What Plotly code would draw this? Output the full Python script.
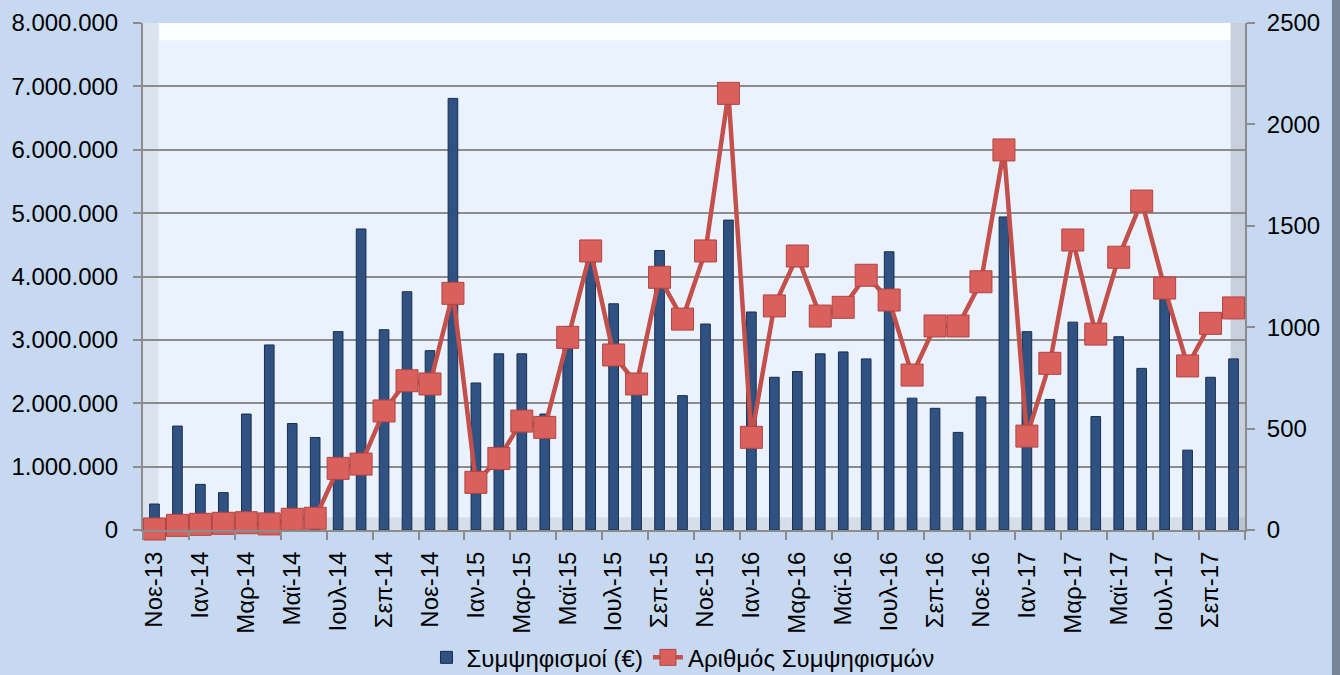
import plotly.graph_objects as go

months = ["Νοε-13", "Δεκ-13",
          "Ιαν-14", "Φεβ-14", "Μαρ-14", "Απρ-14", "Μαϊ-14", "Ιουν-14",
          "Ιουλ-14", "Αυγ-14", "Σεπ-14", "Οκτ-14", "Νοε-14", "Δεκ-14",
          "Ιαν-15", "Φεβ-15", "Μαρ-15", "Απρ-15", "Μαϊ-15", "Ιουν-15",
          "Ιουλ-15", "Αυγ-15", "Σεπ-15", "Οκτ-15", "Νοε-15", "Δεκ-15",
          "Ιαν-16", "Φεβ-16", "Μαρ-16", "Απρ-16", "Μαϊ-16", "Ιουν-16",
          "Ιουλ-16", "Αυγ-16", "Σεπ-16", "Οκτ-16", "Νοε-16", "Δεκ-16",
          "Ιαν-17", "Φεβ-17", "Μαρ-17", "Απρ-17", "Μαϊ-17", "Ιουν-17",
          "Ιουλ-17", "Αυγ-17", "Σεπ-17", "Οκτ-17"]

amounts = [410000, 1640000, 720000, 590000, 1830000, 2920000, 1680000, 1460000,
           3130000, 4750000, 3160000, 3760000, 2830000, 6810000,
           2320000, 2780000, 2780000, 1830000, 3210000, 4220000,
           3570000, 2250000, 4410000, 2120000, 3250000, 4890000,
           3440000, 2410000, 2500000, 2780000, 2810000, 2700000,
           4390000, 2080000, 1920000, 1540000, 2100000, 4940000,
           3130000, 2060000, 3280000, 1790000, 3050000, 2550000,
           3920000, 1260000, 2410000, 2700000]

counts = [5, 23, 28, 33, 36, 30, 53, 58,
          304, 325, 587, 736, 720, 1167,
          235, 353, 537, 506, 950, 1376,
          863, 720, 1246, 1040, 1376, 2153,
          457, 1105, 1351, 1055, 1098, 1256,
          1134, 764, 1006, 1006, 1224, 1874,
          463, 822, 1430, 966, 1345, 1622,
          1193, 809, 1019, 1095]

left_ticks = [0, 1000000, 2000000, 3000000, 4000000, 5000000, 6000000, 7000000, 8000000]
right_ticks = [0, 500, 1000, 1500, 2000, 2500]

x = list(range(len(months)))
label_idx = x[::2]
label_txt = [months[i] for i in label_idx]

FONT = "Liberation Sans, Arial, sans-serif"

fig = go.Figure()
fig.add_trace(go.Bar(
    x=x, y=amounts, name="Συμψηφισμοί (€)",
    width=0.42,
    marker=dict(color="#2F5283", line=dict(color="#1A2E4C", width=1)),
    yaxis="y",
))
fig.add_trace(go.Scatter(
    x=x, y=counts, name="Αριθμός Συμψηφισμών",
    mode="lines+markers",
    line=dict(color="#C4504C", width=4.5),
    marker=dict(symbol="square", size=22, color="#D9605C",
                line=dict(color="#B24440", width=1)),
    cliponaxis=False,
    yaxis="y2",
))

# decorative wall shading (3D look)
shapes = [
    dict(type="rect", xref="paper", yref="paper", x0=0.015, x1=0.987, y0=0.966, y1=1.0,
         fillcolor="rgba(255,255,255,0.95)", line=dict(width=0), layer="below"),
    dict(type="rect", xref="paper", yref="paper", x0=0, x1=0.014, y0=0, y1=1.0,
         fillcolor="rgba(150,160,175,0.18)", line=dict(width=0), layer="below"),
    dict(type="rect", xref="paper", yref="paper", x0=0.987, x1=1.0, y0=0, y1=1.0,
         fillcolor="rgba(120,130,145,0.30)", line=dict(width=0), layer="below"),
    dict(type="rect", xref="paper", yref="paper", x0=0, x1=1, y0=0, y1=0.025,
         fillcolor="rgba(140,150,165,0.22)", line=dict(width=0), layer="below"),
    dict(type="rect", xref="paper", yref="paper", x0=1.0789, x1=1.0865, y0=-0.3, y1=1.05,
         fillcolor="#77859A", line=dict(width=0), layer="below"),
]

fig.update_layout(
    width=1340, height=675,
    margin=dict(l=143, r=95, t=23, b=145, autoexpand=False),
    paper_bgcolor="#C6D9F1",
    plot_bgcolor="#EAF3FD",
    separators=",.",
    font=dict(family=FONT, size=24, color="#000000"),
    showlegend=True,
    legend=dict(orientation="h", x=0.49, xanchor="center", y=-0.252, yanchor="middle",
                font=dict(family=FONT, size=24, color="#000000"),
                bgcolor="rgba(0,0,0,0)", tracegroupgap=0),
    bargap=0.5,
    shapes=shapes,
    xaxis=dict(
        range=[-0.5, len(months) - 0.5],
        tickmode="array", tickvals=label_idx, ticktext=label_txt,
        tickangle=-90, ticks="", showgrid=False, zeroline=False,
        showline=True, linecolor="#8C8C8C", linewidth=2,
        tickfont=dict(family=FONT, size=24),
        minor=dict(tick0=-0.5, dtick=2, ticks="outside", ticklen=8,
                   tickcolor="#8C8C8C", tickwidth=2, showgrid=False),
        ticklabelstandoff=10, automargin=False,
    ),
    yaxis=dict(
        range=[0, 8000000], tickmode="array", tickvals=left_ticks,
        tickformat=",d", showgrid=True, gridcolor="#8C8C8C", gridwidth=1.5,
        zeroline=False, showline=True, linecolor="#8C8C8C", linewidth=2,
        ticks="outside", ticklen=8, tickcolor="#8C8C8C", tickwidth=2,
        ticklabelstandoff=10, automargin=False,
        tickfont=dict(family=FONT, size=24),
    ),
    yaxis2=dict(
        range=[0, 2500], tickmode="array", tickvals=right_ticks,
        tickformat="d", overlaying="y", side="right", showgrid=False,
        zeroline=False, showline=True, linecolor="#8C8C8C", linewidth=2,
        ticks="outside", ticklen=8, tickcolor="#8C8C8C", tickwidth=2,
        ticklabelstandoff=7, automargin=False,
        tickfont=dict(family=FONT, size=24),
    ),
)

fig.write_html(
    "out.html",
    config={"displayModeBar": False},
    post_script="document.body.style.margin='0';document.body.style.overflow='hidden';",
)
